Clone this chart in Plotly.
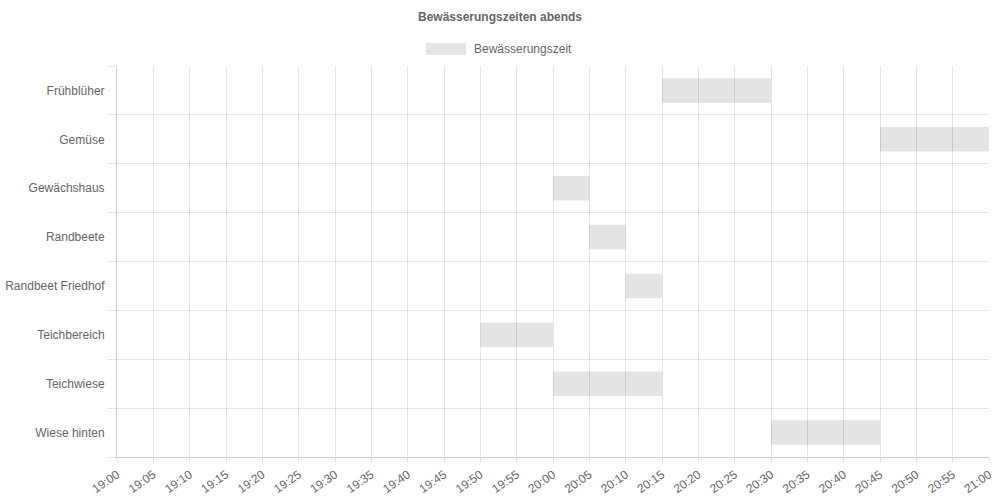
import plotly.graph_objects as go

title_text = "Bewässerungszeiten abends"
series_name = "Bewässerungszeit"
categories = ["Frühblüher", "Gemüse", "Gewächshaus", "Randbeete",
              "Randbeet Friedhof", "Teichbereich", "Teichwiese", "Wiese hinten"]
start_times = ["20:15", "20:45", "20:00", "20:05", "20:10", "19:50", "20:00", "20:30"]
end_times = ["20:30", "21:00", "20:05", "20:10", "20:15", "20:00", "20:15", "20:45"]
tick_labels = ["19:00", "19:05", "19:10", "19:15", "19:20", "19:25", "19:30", "19:35",
               "19:40", "19:45", "19:50", "19:55", "20:00", "20:05", "20:10", "20:15",
               "20:20", "20:25", "20:30", "20:35", "20:40", "20:45", "20:50", "20:55",
               "21:00"]


def to_min(s):
    h, m = s.split(":")
    return int(h) * 60 + int(m)


starts = [to_min(s) for s in start_times]
durations = [to_min(e) - to_min(s) for s, e in zip(start_times, end_times)]
tick_vals = [to_min(t) for t in tick_labels]
rows = list(range(len(categories)))
row_bounds = [i - 0.5 for i in range(len(categories) + 1)]

FONT = "Liberation Sans, Arial, Helvetica, sans-serif"
TXT = "#666666"
GRID = "rgba(0,0,0,0.1)"
BAR = "rgba(0,0,0,0.105)"

# body margin is removed by a post script, so figure sits at (0, 0)
W, H = 1000, 500
L, R, T, B = 117, 11, 66, 43
PW, PH = W - L - R, H - T - B


def py(page_y):  # page pixel y -> paper fraction
    return (H - B - page_y) / PH


def px(page_x):
    return (page_x - L) / PW


fig = go.Figure()
fig.add_trace(go.Bar(
    y=rows,
    x=durations,
    base=starts,
    orientation="h",
    width=0.5,
    name=series_name,
    customdata=categories,
    marker=dict(color=BAR, line=dict(width=0)),
    showlegend=False,
    hovertemplate="%{customdata}<extra></extra>",
))

fig.update_layout(
    width=W, height=H,
    margin=dict(l=L, r=R, t=T, b=B, autoexpand=False),
    paper_bgcolor="white", plot_bgcolor="white",
    font=dict(family=FONT, size=12, color=TXT),
    title=dict(text="<b>" + title_text + "</b>", x=0.5, xref="container",
               xanchor="center", y=1 - 17 / H, yanchor="middle", yref="container",
               font=dict(family=FONT, size=12, color=TXT)),
)

fig.update_xaxes(
    range=[tick_vals[0], tick_vals[-1]],
    tickmode="array", tickvals=tick_vals, ticktext=tick_labels,
    tickangle=-35,
    showgrid=True, gridcolor=GRID, gridwidth=1,
    ticks="outside", ticklen=5, tickcolor=GRID,
    showline=True, linecolor="rgba(0,0,0,0.2)", linewidth=1,
    zeroline=False, automargin=False,
    tickfont=dict(family=FONT, size=12, color=TXT),
    fixedrange=True,
)
fig.update_yaxes(
    range=[row_bounds[-1], row_bounds[0]],
    tickmode="array", tickvals=rows, ticktext=categories,
    showgrid=False,
    ticks="outside", ticklen=9, tickcolor="rgba(0,0,0,0)",
    minor=dict(tickmode="array", tickvals=row_bounds, ticks="outside", ticklen=9,
               tickcolor=GRID, showgrid=True, gridcolor=GRID, gridwidth=1),
    showline=True, linecolor="rgba(0,0,0,0.2)", linewidth=1,
    zeroline=False, automargin=False,
    tickfont=dict(family=FONT, size=12, color=TXT),
    fixedrange=True,
)

# legend drawn like the reference (wide colour box + label)
fig.add_shape(type="rect", xref="paper", yref="paper",
              x0=px(426), x1=px(466), y0=py(55), y1=py(43),
              fillcolor=BAR, line=dict(width=0), layer="above")
fig.add_annotation(text=series_name, xref="paper", yref="paper",
                   x=px(472), y=py(49),
                   xanchor="left", yanchor="middle", showarrow=False,
                   font=dict(family=FONT, size=12, color=TXT))

fig.write_html("out.html",
               config={"displayModeBar": False},
               post_script="document.body.style.margin='0';document.body.style.padding='0';")
